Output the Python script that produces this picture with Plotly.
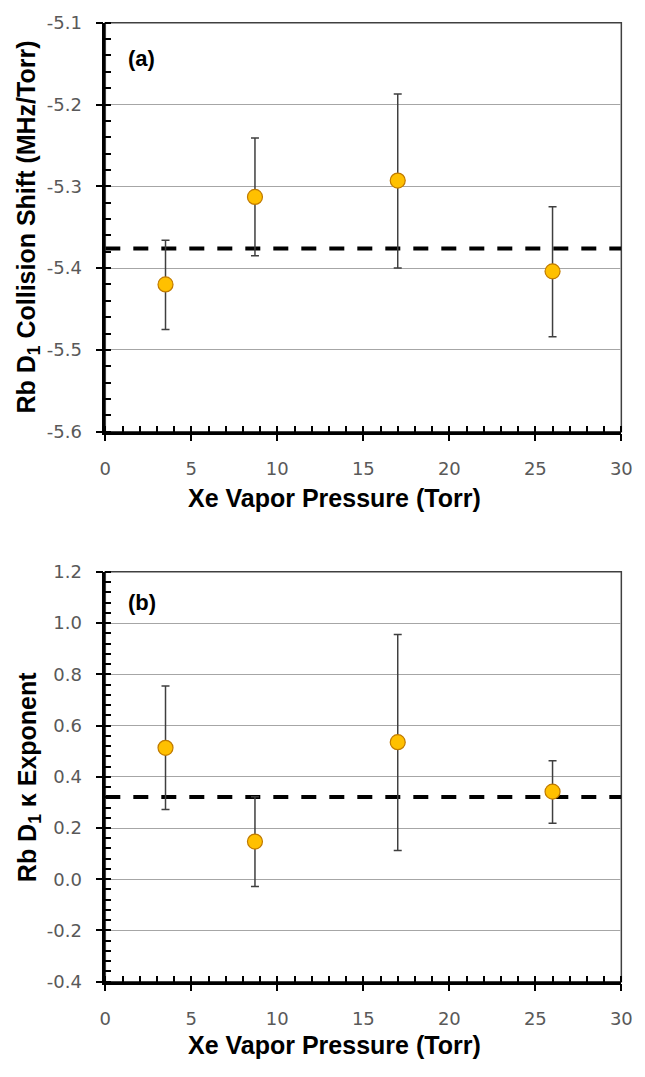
import plotly.graph_objects as go

# ---------------- data ----------------
pressure = [3.5, 8.7, 17.0, 26.0]

shift = [-5.420, -5.313, -5.293, -5.404]
shift_hi = [-5.366, -5.241, -5.187, -5.325]
shift_lo = [-5.475, -5.385, -5.400, -5.484]
shift_mean = -5.376

kappa = [0.513, 0.147, 0.535, 0.342]
kappa_hi = [0.754, 0.322, 0.955, 0.463]
kappa_lo = [0.272, -0.028, 0.112, 0.219]
kappa_mean = 0.321

mean_x = [0, 30]

x_tickvals = [0, 5, 10, 15, 20, 25, 30]
x_ticktext = ["0", "5", "10", "15", "20", "25", "30"]
shift_tickvals = [-5.6, -5.5, -5.4, -5.3, -5.2, -5.1]
shift_ticktext = ["-5.6", "-5.5", "-5.4", "-5.3", "-5.2", "-5.1"]
kappa_tickvals = [-0.4, -0.2, 0.0, 0.2, 0.4, 0.6, 0.8, 1.0, 1.2]
kappa_ticktext = ["-0.4", "-0.2", "0.0", "0.2", "0.4", "0.6", "0.8", "1.0", "1.2"]

# ---------------- style ----------------
W, H = 645, 1077
X_DOM = [102 / W, 632 / W]
Y1_DOM = [1 - 429 / H, 1 - 12 / H]
Y2_DOM = [1 - 990 / H, 1 - 572 / H]

TICK_FONT = dict(family="DejaVu Sans", size=18, color="#595959")
TITLE_FONT = dict(family="Liberation Sans, Arial", size=25, color="black", weight=700)
MARKER = dict(size=15, color="#FFC000", line=dict(color="#C07A00", width=1.2))
ERR_COLOR = "#3F3F3F"

fig = go.Figure()


def add_panel(xa, ya, y, hi, lo, mean):
    fig.add_trace(go.Scatter(
        x=mean_x, y=[mean, mean], mode="lines", xaxis=xa, yaxis=ya,
        line=dict(color="black", width=4, dash="15px,13px"), hoverinfo="skip"))
    fig.add_trace(go.Scatter(
        x=pressure, y=y, mode="markers", xaxis=xa, yaxis=ya, marker=MARKER,
        error_y=dict(type="data", symmetric=False,
                     array=[h - v for h, v in zip(hi, y)],
                     arrayminus=[v - l for v, l in zip(y, lo)],
                     color=ERR_COLOR, thickness=1.5, width=4)))


add_panel("x", "y", shift, shift_hi, shift_lo, shift_mean)
add_panel("x2", "y2", kappa, kappa_hi, kappa_lo, kappa_mean)


def xaxis_cfg(anchor):
    return dict(domain=X_DOM, anchor=anchor, range=[0, 30],
                tickmode="array", tickvals=x_tickvals, ticktext=x_ticktext,
                showline=True, linecolor="black", linewidth=2.5,
                ticks="outside", ticklen=7, tickwidth=1.5, tickcolor="black",
                ticklabelstandoff=12,
                showgrid=False, zeroline=False, tickfont=TICK_FONT,
                minor=dict(tickmode="linear", tick0=0, dtick=1, ticks="inside",
                           ticklen=6, tickwidth=1.5, tickcolor="black", showgrid=False))


def yaxis_cfg(anchor, dom, rng, tv, tt, mdt):
    return dict(domain=dom, anchor=anchor, range=rng,
                tickmode="array", tickvals=tv, ticktext=tt,
                showline=True, linecolor="black", linewidth=2.5,
                ticks="outside", ticklen=7, tickwidth=1.5, tickcolor="black",
                ticklabelstandoff=10,
                showgrid=True, gridcolor="#A6A6A6", gridwidth=1.3,
                zeroline=False, tickfont=TICK_FONT,
                minor=dict(tickmode="linear", tick0=rng[0], dtick=mdt, ticks="inside",
                           ticklen=6, tickwidth=1.5, tickcolor="black", showgrid=False))


fig.update_layout(
    width=W, height=H, margin=dict(l=0, r=0, t=0, b=0),
    paper_bgcolor="white", plot_bgcolor="white", showlegend=False,
    xaxis=xaxis_cfg("y"),
    yaxis=yaxis_cfg("x", Y1_DOM, [-5.6, -5.1], shift_tickvals, shift_ticktext, 0.02),
    xaxis2=xaxis_cfg("y2"),
    yaxis2=yaxis_cfg("x2", Y2_DOM, [-0.4, 1.2], kappa_tickvals, kappa_ticktext, 0.04),
)

shapes = []
for dom in (Y1_DOM, Y2_DOM):
    shapes.append(dict(type="rect", xref="paper", yref="paper",
                       x0=X_DOM[0], x1=X_DOM[1], y0=dom[0], y1=dom[1], layer="below",
                       line=dict(color="#404040", width=1.5)))
fig.update_layout(shapes=shapes)

ann = []
for ytitle, ycen, xtitle_y, panel, py in (
        ("Rb D<sub>1</sub> Collision Shift (MHz/Torr)", 1 - 220.5 / H, 1 - 497 / H, "(a)", 1 - 48 / H),
        ("Rb D<sub>1</sub> κ Exponent", 1 - 781 / H, 1 - 1055 / H, "(b)", 1 - 603 / H)):
    ann.append(dict(text=ytitle, xref="paper", yref="paper", x=23 / W, y=ycen,
                    textangle=-90, showarrow=False, font=TITLE_FONT,
                    xanchor="center", yanchor="middle"))
    ann.append(dict(text="Xe Vapor Pressure (Torr)", xref="paper", yref="paper",
                    x=337 / W, y=xtitle_y, showarrow=False, font=TITLE_FONT,
                    xanchor="center", yanchor="middle"))
    ann.append(dict(text=panel, xref="paper", yref="paper", x=123 / W, y=py,
                    showarrow=False, xanchor="left", yanchor="middle",
                    font=dict(family="Liberation Sans, Arial", size=22, color="black", weight=700)))
fig.update_layout(annotations=ann)

fig.write_html("out.html")
